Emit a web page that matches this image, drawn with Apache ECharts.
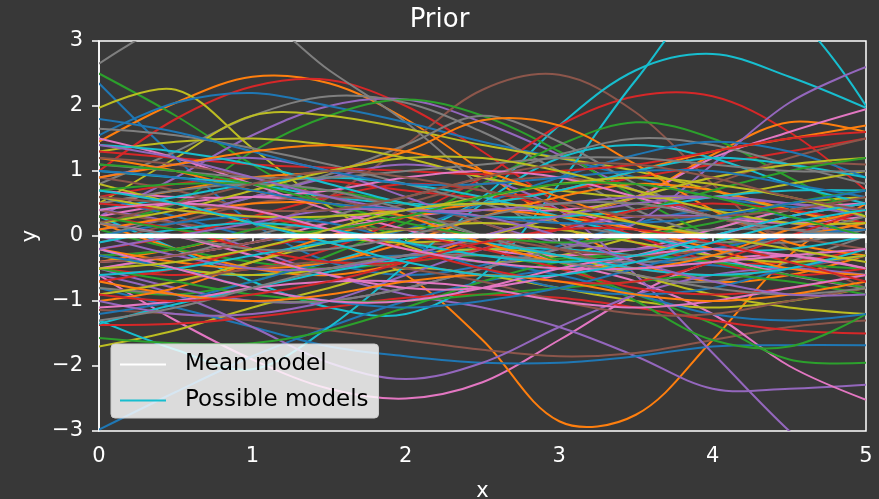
<!DOCTYPE html>
<html>
<head>
<meta charset="utf-8">
<script src="https://cdn.jsdelivr.net/npm/echarts@6/dist/echarts.min.js"></script>
<style>
  html, body { margin: 0; padding: 0; background: #383838; }
  #main { width: 879px; height: 499px; }
</style>
</head>
<body>
<div id="main"></div>
<script>
// x positions shared by every curve
const xs = [0, 0.5, 1, 1.5, 2, 2.5, 3, 3.5, 4, 4.5, 5];
const xTicks = [0, 1, 2, 3, 4, 5];
const yTicks = [-3, -2, -1, 0, 1, 2, 3];

const meanModel = [0, 0, 0, 0, 0, 0, 0, 0, 0, 0, 0];

// samples, in colour-cycle order (blue, orange, green, red, purple, brown, pink, gray, olive, cyan)
const samples = [
  // group 1
  [2.35, 1.2, 0.2, -0.4, -0.6, -0.45, -0.15, 0.2, 0.4, 0.3, 0.0],
  [1.45, 2.05, 2.45, 2.35, 1.8, 1.0, 0.2, -0.4, -0.7, -0.6, -0.3],
  [2.5, 1.85, 1.1, 0.45, -0.05, -0.3, -0.35, -0.2, 0.1, 0.4, 0.6],
  [1.0, 1.8, 2.3, 2.4, 2.0, 1.3, 0.5, -0.1, -0.4, -0.4, -0.2],
  [0.3, 0.9, 1.55, 2.0, 2.1, 1.75, 1.25, 0.7, 0.3, 0.1, 0.1],
  [-0.3, -0.2, 0.1, 0.6, 1.4, 2.25, 2.48, 1.9, 0.8, -0.2, -0.8],
  [-0.6, -1.3, -1.9, -2.35, -2.5, -2.25, -1.6, -0.9, -0.4, -0.3, -0.5],
  [2.65, 3.3, 3.4, 2.55, 1.75, 0.75, -0.1, -0.6, -0.7, -0.4, 0.0],
  [1.97, 2.25, 1.35, 0.45, -0.15, -0.4, -0.3, 0.0, 0.3, 0.5, 0.6],
  [-0.2, -0.5, -0.6, -0.4, 0.0, 0.6, 1.7, 2.55, 2.8, 2.45, 1.97],
  // group 2
  [1.55, 2.05, 2.2, 2.0, 1.75, 1.45, 1.2, 0.9, 0.6, 0.45, 0.4],
  [-0.4, -0.2, 0.0, -0.1, -0.6, -1.6, -2.85, -2.75, -1.6, -0.3, 0.5],
  [0.2, 0.5, 1.3, 1.85, 2.1, 1.85, 1.3, 0.6, 0.0, -0.4, -0.5],
  [-0.5, -0.6, -0.5, -0.2, 0.3, 0.9, 1.7, 2.15, 2.15, 1.6, 0.7],
  [0.4, 0.2, -0.2, -0.6, -0.9, -1.1, -1.4, -1.85, -2.35, -2.35, -2.29],
  [-1.14, -1.2, -1.3, -1.45, -1.6, -1.75, -1.85, -1.8, -1.6, -1.4, -1.3],
  [0.3, 0.5, 0.6, 0.5, 0.3, 0.0, -0.4, -0.7, -1.2, -2.0, -2.52],
  [0.8, 1.3, 1.85, 2.15, 2.05, 1.6, 1.0, 0.4, 0.0, -0.1, 0.1],
  [0.5, 1.2, 1.85, 1.85, 1.65, 1.4, 1.2, 1.0, 0.7, 0.4, 0.2],
  [0.3, -0.2, -0.7, -1.1, -1.2, -0.6, 0.8, 2.4, 3.7, 3.45, 2.0],
  // group 3
  [-2.98, -2.4, -1.85, -1.4, -1.0, -0.7, -0.5, -0.4, -0.45, -0.6, -0.8],
  [0.2, -0.2, -0.5, -0.6, -0.4, 0.0, 0.3, 0.6, 1.25, 1.75, 1.6],
  [-0.8, -0.9, -0.7, -0.3, 0.2, 0.8, 1.4, 1.75, 1.5, 0.9, 0.3],
  [0.6, 0.8, 0.9, 0.85, 0.7, 0.6, 0.7, 0.9, 1.1, 1.3, 1.5],
  [-0.5, -0.8, -1.0, -1.0, -0.8, -0.5, -0.2, 0.2, 1.1, 2.05, 2.6],
  [0.9, 0.7, 0.4, 0.1, -0.1, -0.1, 0.1, 0.4, 0.8, 1.2, 1.5],
  [-0.4, -0.3, -0.1, 0.1, 0.3, 0.4, 0.4, 0.6, 1.2, 1.6, 1.95],
  [0.0, 0.3, 0.6, 0.95, 1.4, 1.85, 1.45, 0.8, 0.3, 0.1, 0.1],
  [-1.7, -1.45, -1.1, -0.8, -0.5, -0.6, -0.8, -1.0, -1.1, -1.0, -0.8],
  [-1.3, -1.75, -2.05, -1.4, -0.45, 0.5, 1.2, 1.4, 1.2, 0.8, 0.5],
  // group 4
  [-0.8, -1.1, -1.4, -1.7, -1.85, -1.95, -1.95, -1.85, -1.7, -1.68, -1.68],
  [0.5, 0.7, 0.9, 1.0, 1.3, 1.78, 1.7, 1.1, 0.4, -0.1, -0.3],
  [0.1, -0.2, -0.4, -0.5, -0.4, -0.3, -0.5, -0.9, -1.35, -1.9, -1.95],
  [-1.37, -1.35, -1.25, -1.1, -0.95, -0.9, -0.95, -1.1, -1.3, -1.45, -1.5],
  [0.1, 0.3, 0.6, 0.9, 1.1, 0.9, 0.4, -0.6, -1.8, -3.0, -4.0],
  [0.4, 0.2, 0.1, 0.2, 0.5, 0.8, 0.9, 0.7, 0.3, 0.0, -0.2],
  [1.5, 1.2, 0.8, 0.4, 0.1, -0.2, -0.3, -0.2, 0.1, 0.4, 0.5],
  [-0.5, -0.3, 0.0, 0.3, 0.6, 0.9, 1.25, 1.5, 1.4, 1.1, 0.8],
  [1.3, 1.45, 1.5, 1.4, 1.2, 0.9, 0.7, 0.6, 0.6, 0.8, 1.0],
  [-1.35, -1.05, -0.8, -0.55, -0.35, -0.2, -0.2, -0.3, -0.4, -0.5, -0.6],
  // group 5
  [0.6, 0.3, 0.0, -0.1, 0.1, 0.5, 0.9, 1.25, 1.45, 1.3, 0.9],
  [1.2, 1.0, 0.7, 0.5, 0.4, 0.5, 0.7, 1.0, 1.3, 1.5, 1.7],
  [-0.3, -0.2, 0.1, 0.3, 0.3, 0.0, -0.4, -1.0, -1.6, -1.7, -1.2],
  [-0.2, 0.0, 0.3, 0.6, 0.8, 0.7, 0.4, 0.0, -0.4, -0.6, -0.5],
  [-0.6, -0.9, -1.4, -1.95, -2.2, -1.95, -1.4, -0.9, -0.6, -0.5, -0.6],
  [1.2, 1.1, 0.9, 0.6, 0.3, 0.2, 0.3, 0.6, 0.9, 1.1, 1.1],
  [-0.5, -0.3, -0.1, 0.2, 0.4, 0.5, 0.4, 0.1, -0.3, -0.6, -0.8],
  [1.65, 1.55, 1.35, 1.1, 0.8, 0.5, 0.2, 0.0, -0.1, 0.0, 0.2],
  [-0.3, -0.5, -0.6, -0.5, -0.3, -0.2, -0.3, -0.6, -0.9, -1.1, -1.2],
  [1.0, 0.9, 0.8, 0.6, 0.5, 0.5, 0.7, 1.0, 1.2, 1.1, 0.9],
  // group 6
  [-1.2, -1.0, -0.7, -0.4, -0.3, -0.4, -0.6, -0.9, -1.2, -1.3, -1.2],
  [-0.2, -0.4, -0.5, -0.4, -0.1, 0.3, 0.6, 0.8, 0.7, 0.4, 0.1],
  [-1.57, -1.65, -1.65, -1.45, -1.1, -0.7, -0.4, -0.3, -0.4, -0.6, -0.8],
  [1.3, 1.2, 1.1, 1.05, 1.0, 0.95, 1.0, 1.1, 1.3, 1.5, 1.6],
  [0.9, 1.1, 1.2, 1.0, 0.6, 0.2, -0.1, -0.2, 0.0, 0.3, 0.5],
  [-0.1, 0.2, 0.5, 0.6, 0.5, 0.2, -0.2, -0.5, -0.6, -0.5, -0.3],
  [0.7, 0.6, 0.6, 0.7, 0.9, 1.0, 0.9, 0.6, 0.3, 0.2, 0.3],
  [-0.8, -0.9, -1.0, -1.0, -0.8, -0.5, -0.2, 0.0, 0.1, 0.1, 0.0],
  [0.8, 0.5, 0.2, 0.0, -0.1, 0.0, 0.3, 0.6, 0.9, 1.1, 1.2],
  [0.4, 0.6, 0.8, 0.9, 0.8, 0.6, 0.3, 0.0, -0.2, -0.2, 0.0],
  // group 7
  [0.0, 0.2, 0.3, 0.2, -0.1, -0.5, -0.8, -0.9, -0.8, -0.5, -0.3],
  [-1.0, -0.8, -0.4, 0.0, 0.3, 0.4, 0.3, 0.1, -0.2, -0.5, -0.6],
  [0.7, 0.8, 0.8, 0.7, 0.5, 0.3, 0.3, 0.4, 0.7, 1.0, 1.2],
  [-0.7, -0.5, -0.2, 0.0, 0.0, -0.2, -0.5, -0.8, -0.9, -0.8, -0.6],
  [-1.0, -1.2, -1.2, -1.0, -0.6, -0.2, 0.1, 0.3, 0.3, 0.2, 0.0],
  [-0.9, -0.7, -0.5, -0.4, -0.5, -0.7, -1.0, -1.2, -1.2, -1.0, -0.8],
  [0.2, 0.0, -0.3, -0.6, -0.8, -0.8, -0.6, -0.3, 0.0, 0.3, 0.5],
  [1.1, 1.0, 0.9, 0.9, 1.0, 1.1, 1.2, 1.2, 1.1, 1.0, 1.0],
  [-0.9, -0.7, -0.4, -0.1, 0.1, 0.2, 0.1, -0.1, -0.3, -0.4, -0.3],
  [1.4, 1.3, 1.1, 0.8, 0.5, 0.3, 0.3, 0.4, 0.6, 0.7, 0.7],
  // group 8
  [1.8, 1.6, 1.3, 1.0, 0.8, 0.8, 0.9, 1.0, 1.0, 0.8, 0.6],
  [0.9, 1.1, 1.3, 1.4, 1.3, 1.0, 0.6, 0.2, 0.0, 0.0, 0.2],
  [-0.5, -0.7, -0.9, -1.0, -1.0, -0.9, -0.8, -0.7, -0.6, -0.7, -0.9],
  [0.3, 0.1, -0.2, -0.4, -0.4, -0.2, 0.1, 0.4, 0.5, 0.4, 0.2],
  [0.0, -0.3, -0.5, -0.5, -0.3, 0.0, 0.3, 0.5, 0.6, 0.5, 0.3],
  [-0.4, -0.3, -0.1, 0.1, 0.1, 0.0, -0.2, -0.3, -0.2, 0.1, 0.4],
  [-1.1, -1.0, -0.8, -0.7, -0.7, -0.8, -1.0, -1.1, -1.0, -0.8, -0.6],
  [0.5, 0.7, 0.8, 0.7, 0.4, 0.0, -0.3, -0.4, -0.3, 0.0, 0.3],
  [0.2, 0.4, 0.7, 1.0, 1.2, 1.2, 1.0, 0.7, 0.4, 0.2, 0.2],
  [-0.6, -0.5, -0.3, -0.1, 0.0, -0.1, -0.3, -0.5, -0.6, -0.5, -0.2],
  // group 9
  [-0.3, -0.5, -0.8, -1.0, -1.1, -1.0, -0.8, -0.5, -0.2, 0.0, 0.1],
  [0.1, 0.3, 0.5, 0.5, 0.3, -0.1, -0.4, -0.5, -0.3, 0.1, 0.4],
  [1.1, 1.0, 0.8, 0.5, 0.2, 0.0, -0.1, 0.0, 0.2, 0.5, 0.7],
  [0.5, 0.4, 0.3, 0.1, -0.2, -0.5, -0.7, -0.7, -0.4, 0.0, 0.4],
  [1.4, 1.2, 0.9, 0.6, 0.4, 0.4, 0.5, 0.6, 0.6, 0.5, 0.4],
  [0.2, 0.5, 0.8, 1.0, 0.9, 0.7, 0.5, 0.3, 0.3, 0.4, 0.6],
  [-0.2, -0.5, -0.8, -1.0, -1.0, -0.8, -0.5, -0.3, -0.2, -0.3, -0.5],
  [-1.3, -1.1, -0.8, -0.5, -0.3, -0.3, -0.4, -0.6, -0.8, -0.9, -0.8],
  [0.6, 0.4, 0.3, 0.3, 0.4, 0.6, 0.8, 0.9, 0.8, 0.6, 0.3],
  [-0.1, 0.1, 0.2, 0.1, -0.1, -0.3, -0.4, -0.3, 0.0, 0.3, 0.5],
  // group 10
  [1.0, 0.9, 0.7, 0.5, 0.4, 0.3, 0.2, 0.2, 0.3, 0.5, 0.7],
  [-0.7, -0.9, -1.0, -0.9, -0.7, -0.6, -0.7, -0.9, -1.0, -0.9, -0.7],
  [0.3, 0.1, 0.0, 0.1, 0.3, 0.6, 0.8, 0.8, 0.6, 0.3, 0.0],
  [-0.9, -1.0, -0.9, -0.7, -0.4, -0.1, 0.1, 0.1, -0.1, -0.4, -0.7],
  [-0.2, 0.0, 0.2, 0.4, 0.4, 0.3, 0.0, -0.4, -0.7, -0.9, -0.9],
  [0.6, 0.5, 0.4, 0.4, 0.6, 0.9, 1.1, 1.1, 0.9, 0.6, 0.4],
  [0.4, 0.5, 0.4, 0.1, -0.2, -0.4, -0.5, -0.5, -0.4, -0.3, -0.2],
  [0.2, 0.0, -0.2, -0.2, 0.0, 0.3, 0.5, 0.5, 0.3, 0.1, 0.0],
  [-0.5, -0.4, -0.2, 0.1, 0.4, 0.5, 0.4, 0.2, 0.0, -0.2, -0.4],
  [0.7, 0.5, 0.2, -0.1, -0.4, -0.6, -0.6, -0.4, -0.1, 0.2, 0.4]
];

const tab10 = ['#1f77b4', '#ff7f0e', '#2ca02c', '#d62728', '#9467bd',
               '#8c564b', '#e377c2', '#7f7f7f', '#bcbd22', '#17becf'];

const font = 'DejaVu Sans';
const chart = echarts.init(document.getElementById('main'));

// each sample is one smooth curve through its points, placed with the axes' own scales
const series = samples.map((ys, i) => ({
  name: 'sample' + i,
  type: 'custom',
  coordinateSystem: 'cartesian2d',
  data: xs.map((x, k) => [x, ys[k]]),
  clip: true,
  silent: true,
  animation: false,
  renderItem: (params, api) => {
    if (params.dataIndex !== 0) return null;
    const cs = params.coordSys;
    return {
      type: 'group',
      clipPath: { type: 'rect', shape: { x: cs.x, y: cs.y, width: cs.width, height: cs.height } },
      children: [{
        type: 'polyline',
        shape: { points: xs.map((x, k) => api.coord([x, ys[k]])), smooth: 0.35 },
        style: { stroke: tab10[i % 10], fill: null, lineWidth: 2 }
      }]
    };
  }
}));

// legend entry for the samples
series.push({
  name: 'Possible models',
  type: 'line',
  data: [],
  symbol: 'none',
  color: tab10[9],
  lineStyle: { width: 2.5 }
});

series.push({
  name: 'Mean model',
  type: 'line',
  data: xs.map((x, k) => [x, meanModel[k]]),
  symbol: 'none',
  color: '#ffffff',
  lineStyle: { width: 4.5 },
  z: 5,
  silent: true,
  animation: false
});

chart.setOption({
  backgroundColor: '#383838',
  animation: false,
  title: {
    text: 'Prior',
    left: 'center',
    top: 2,
    textStyle: { color: '#ffffff', fontFamily: font, fontSize: 26, fontWeight: 'normal' }
  },
  grid: {
    left: 99, right: 13, top: 41, bottom: 68,
    outerBoundsMode: 'none',
    containLabel: false,
    show: true, borderColor: '#ffffff', borderWidth: 1.5
  },
  legend: {
    data: ['Mean model', 'Possible models'],
    orient: 'vertical',
    left: 111,
    top: 344,
    itemWidth: 46,
    itemHeight: 24,
    itemGap: 13,
    padding: [9, 10, 6, 8],
    backgroundColor: 'rgba(255,255,255,0.82)',
    borderColor: '#cccccc',
    borderWidth: 1,
    borderRadius: 4,
    itemStyle: { opacity: 0 },
    textStyle: { color: '#000000', fontFamily: font, fontSize: 23, padding: [0, 0, 0, 14] }
  },
  xAxis: {
    type: 'value',
    min: 0, max: 5, interval: 1,
    name: 'x',
    nameLocation: 'middle',
    nameGap: 50,
    nameTextStyle: { color: '#ffffff', fontFamily: font, fontSize: 21 },
    axisLine: { lineStyle: { color: '#ffffff', width: 1.5 } },
    axisTick: { length: 7, lineStyle: { color: '#ffffff', width: 1.5 } },
    axisLabel: { color: '#ffffff', fontFamily: font, fontSize: 21, margin: 15,
                 customValues: xTicks },
    splitLine: { show: false }
  },
  yAxis: {
    type: 'value',
    min: -3, max: 3, interval: 1,
    name: 'y',
    nameLocation: 'middle',
    nameGap: 58,
    nameTextStyle: { color: '#ffffff', fontFamily: font, fontSize: 21 },
    axisLine: { show: true, lineStyle: { color: '#ffffff', width: 1.5 } },
    axisTick: { show: true, length: 7, lineStyle: { color: '#ffffff', width: 1.5 } },
    axisLabel: { color: '#ffffff', fontFamily: font, fontSize: 21, margin: 16,
                 formatter: v => (v < 0 ? '\u2212' + Math.abs(v) : String(v)),
                 customValues: yTicks },
    splitLine: { show: false }
  },
  series: series
});
</script>
</body>
</html>
